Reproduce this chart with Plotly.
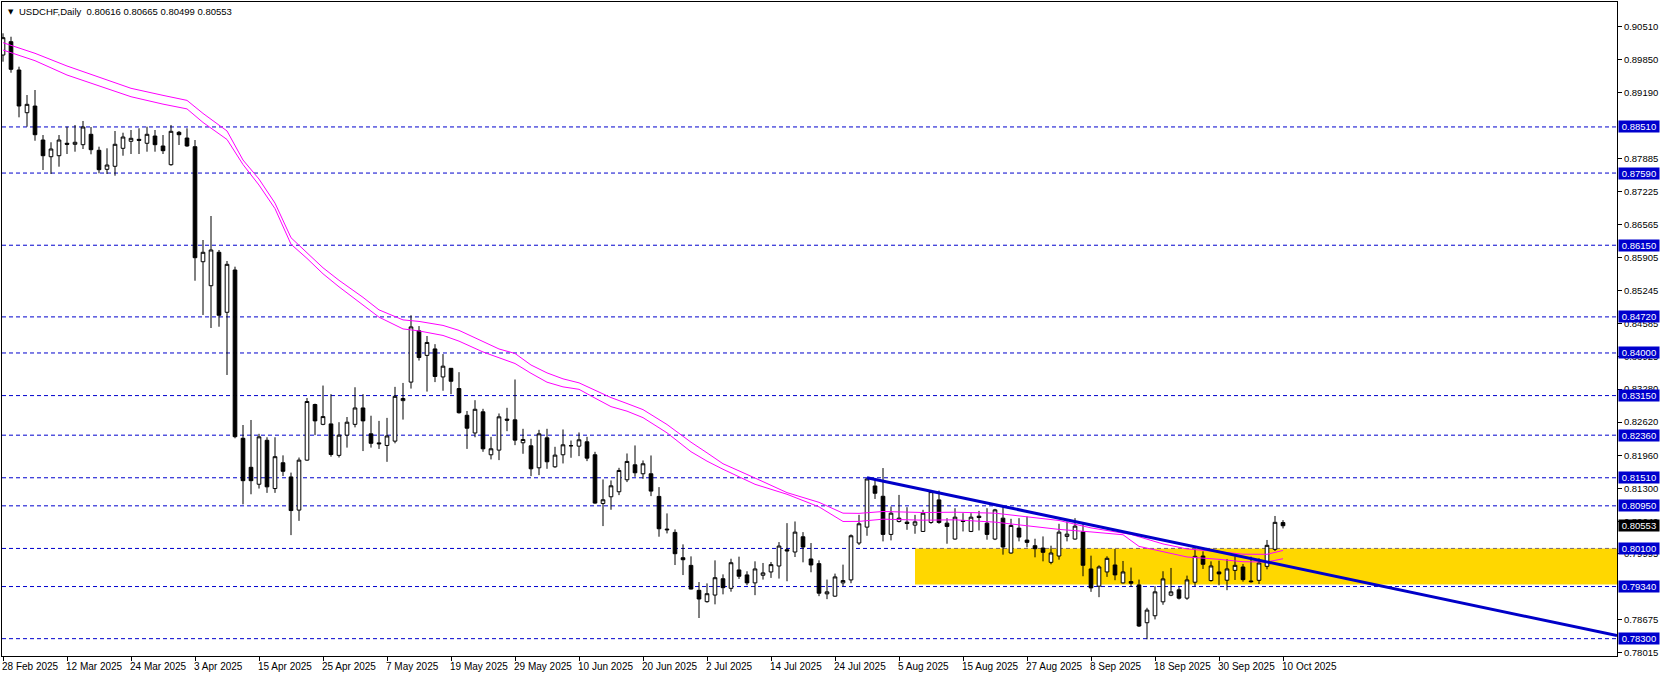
import plotly.graph_objects as go

# ---------------- data ----------------
header_text = "USDCHF,Daily\u00a0\u00a00.80616 0.80665 0.80499 0.80553"

date_labels = ["28 Feb 2025", "12 Mar 2025", "24 Mar 2025", "3 Apr 2025", "15 Apr 2025",
               "25 Apr 2025", "7 May 2025", "19 May 2025", "29 May 2025", "10 Jun 2025",
               "20 Jun 2025", "2 Jul 2025", "14 Jul 2025", "24 Jul 2025", "5 Aug 2025",
               "15 Aug 2025", "27 Aug 2025", "8 Sep 2025", "18 Sep 2025", "30 Sep 2025",
               "10 Oct 2025"]
date_bars = [0, 8, 16, 24, 32, 40, 48, 56, 64, 72, 80, 88, 96, 104, 112, 120, 128, 136, 144, 152, 160]

opens = [0.89945, 0.90211, 0.89646, 0.88794, 0.88927, 0.88249, 0.87916, 0.87936, 0.88184, 0.88164,
         0.88156, 0.88363, 0.88044, 0.87665, 0.87725, 0.88084, 0.88224, 0.88263, 0.88184, 0.88329,
         0.88130, 0.87757, 0.88403, 0.88289, 0.88116, 0.85821, 0.85342, 0.86009, 0.84812, 0.85656,
         0.82298, 0.81719, 0.81381, 0.82258, 0.81295, 0.81810, 0.81527, 0.80865, 0.81862, 0.82972,
         0.82576, 0.82585, 0.81957, 0.82361, 0.82576, 0.82903, 0.82387, 0.82206, 0.82155, 0.82241,
         0.83049, 0.83419, 0.84442, 0.83952, 0.84081, 0.83522, 0.83694, 0.83290, 0.82757, 0.82404,
         0.82826, 0.81969, 0.82062, 0.82680, 0.82666, 0.82208, 0.82148, 0.81709, 0.82307, 0.81729,
         0.81969, 0.82148, 0.82141, 0.82228, 0.81969, 0.80998, 0.81131, 0.81231, 0.81470, 0.81769,
         0.81590, 0.81590, 0.81138, 0.80487, 0.80420, 0.79915, 0.79762, 0.79264, 0.79038, 0.79170,
         0.79496, 0.79304, 0.79671, 0.79572, 0.79413, 0.79565, 0.79631, 0.79750, 0.80075, 0.80029,
         0.80333, 0.79890, 0.79797, 0.79194, 0.79148, 0.79413, 0.79472, 0.80208, 0.80525, 0.81347,
         0.81141, 0.80380, 0.80638, 0.80625, 0.80565, 0.80439, 0.80618, 0.81069, 0.80605, 0.80287,
         0.80658, 0.80439, 0.80744, 0.80605, 0.80287, 0.80704, 0.80009, 0.80506, 0.80267, 0.80155,
         0.80108, 0.79823, 0.79949, 0.80340, 0.80287, 0.80433, 0.79691, 0.79347, 0.79631, 0.79770,
         0.79413, 0.79439, 0.79373, 0.78618, 0.78757, 0.79035, 0.79168, 0.79274, 0.79108, 0.79426,
         0.79949, 0.79459, 0.79631, 0.79466, 0.79663, 0.79730, 0.79451, 0.79464, 0.79743, 0.80082,
         0.80616]
highs = [0.90378, 0.90310, 0.89712, 0.89147, 0.89247, 0.88349, 0.88204, 0.88349, 0.88515, 0.88549,
         0.88629, 0.88509, 0.88116, 0.88084, 0.88429, 0.88395, 0.88449, 0.88483, 0.88515, 0.88449,
         0.88349, 0.88549, 0.88429, 0.88483, 0.88249, 0.86254, 0.86733, 0.86055, 0.85835, 0.85722,
         0.82563, 0.82663, 0.82387, 0.82318, 0.82318, 0.81957, 0.81613, 0.81914, 0.83101, 0.82989,
         0.83350, 0.83178, 0.82619, 0.82722, 0.83316, 0.83178, 0.82748, 0.82645, 0.82705, 0.83324,
         0.83402, 0.84752, 0.84537, 0.84339, 0.84176, 0.83978, 0.83694, 0.83617, 0.82843, 0.83058,
         0.82886, 0.82327, 0.82793, 0.82906, 0.83471, 0.82487, 0.82288, 0.82467, 0.82487, 0.82128,
         0.82474, 0.82254, 0.82414, 0.82327, 0.82028, 0.81477, 0.81457, 0.81709, 0.81995, 0.82155,
         0.81856, 0.81955, 0.81324, 0.80799, 0.80480, 0.80181, 0.79942, 0.79430, 0.79403, 0.79862,
         0.79583, 0.79895, 0.79936, 0.79645, 0.79843, 0.79810, 0.79830, 0.80227, 0.80605, 0.80638,
         0.80426, 0.80208, 0.79863, 0.79479, 0.79598, 0.79777, 0.80380, 0.80771, 0.81499, 0.81466,
         0.81704, 0.80936, 0.81168, 0.80923, 0.80770, 0.80870, 0.81267, 0.81254, 0.80704, 0.80903,
         0.80804, 0.80804, 0.80850, 0.80903, 0.80890, 0.80936, 0.80691, 0.80704, 0.80737, 0.80294,
         0.80340, 0.80155, 0.80592, 0.80638, 0.80704, 0.80585, 0.79956, 0.79764, 0.79943, 0.80088,
         0.79850, 0.79718, 0.79479, 0.78916, 0.79347, 0.79645, 0.79711, 0.79327, 0.79558, 0.80075,
         0.80042, 0.79843, 0.79856, 0.79890, 0.79943, 0.79790, 0.79936, 0.79903, 0.80269, 0.80748,
         0.80665]
lows = [0.89812, 0.89592, 0.88702, 0.88515, 0.88235, 0.87651, 0.87571, 0.87717, 0.87970, 0.88016,
        0.88070, 0.87964, 0.87585, 0.87571, 0.87537, 0.87936, 0.87970, 0.87970, 0.88016, 0.88016,
        0.87970, 0.87737, 0.88150, 0.88116, 0.85442, 0.84758, 0.84498, 0.84524, 0.83561, 0.82298,
        0.80981, 0.81181, 0.81295, 0.81209, 0.81209, 0.81544, 0.80366, 0.80650, 0.81850, 0.82361,
        0.82559, 0.81931, 0.81914, 0.82112, 0.82516, 0.82043, 0.82112, 0.82086, 0.81828, 0.82198,
        0.82671, 0.83290, 0.83849, 0.83230, 0.83419, 0.83247, 0.83178, 0.82791, 0.82086, 0.82318,
        0.82028, 0.81876, 0.81862, 0.82440, 0.82161, 0.81989, 0.81543, 0.81563, 0.81689, 0.81709,
        0.81796, 0.81909, 0.81942, 0.81842, 0.80992, 0.80546, 0.80872, 0.81164, 0.81424, 0.81530,
        0.81490, 0.81144, 0.80334, 0.80400, 0.79769, 0.79569, 0.79284, 0.78712, 0.79018, 0.78985,
        0.79184, 0.79237, 0.79492, 0.79366, 0.79168, 0.79479, 0.79512, 0.79499, 0.79446, 0.79929,
        0.79823, 0.79625, 0.79148, 0.79088, 0.79135, 0.79347, 0.79406, 0.80168, 0.80353, 0.81088,
        0.80241, 0.80261, 0.80618, 0.80472, 0.80393, 0.80433, 0.80592, 0.80592, 0.80194, 0.80274,
        0.80439, 0.80426, 0.80459, 0.80274, 0.80267, 0.79976, 0.79996, 0.80241, 0.80121, 0.79923,
        0.79843, 0.79784, 0.79876, 0.80241, 0.80274, 0.79545, 0.79234, 0.79128, 0.79532, 0.79466,
        0.79400, 0.79333, 0.78532, 0.78287, 0.78684, 0.78976, 0.79148, 0.79082, 0.79075, 0.79347,
        0.79691, 0.79439, 0.79366, 0.79267, 0.79471, 0.79437, 0.79417, 0.79391, 0.79683, 0.80049,
        0.80499]
closes = [0.90291, 0.89660, 0.88928, 0.88961, 0.88355, 0.87936, 0.88070, 0.88249, 0.88164, 0.88204,
          0.88509, 0.88056, 0.87657, 0.87750, 0.88164, 0.88309, 0.88283, 0.88243, 0.88363, 0.88156,
          0.88036, 0.88423, 0.88355, 0.88130, 0.85901, 0.86009, 0.86055, 0.84752, 0.85769, 0.82330,
          0.81452, 0.81452, 0.82327, 0.81329, 0.81931, 0.81639, 0.80856, 0.81862, 0.83032, 0.82645,
          0.82731, 0.81974, 0.82361, 0.82619, 0.82903, 0.82645, 0.82198, 0.82189, 0.82344, 0.83135,
          0.83092, 0.84520, 0.83909, 0.84210, 0.83531, 0.83737, 0.83436, 0.82808, 0.82499, 0.82877,
          0.82088, 0.82088, 0.82726, 0.82660, 0.82261, 0.82274, 0.81689, 0.82387, 0.81829, 0.81962,
          0.82168, 0.82150, 0.82268, 0.81902, 0.81005, 0.81071, 0.81350, 0.81656, 0.81836, 0.81610,
          0.81789, 0.81244, 0.80493, 0.80473, 0.79995, 0.79875, 0.79290, 0.79091, 0.79197, 0.79516,
          0.79317, 0.79815, 0.79545, 0.79413, 0.79691, 0.79612, 0.79777, 0.80148, 0.80050, 0.80426,
          0.80128, 0.79770, 0.79207, 0.79234, 0.79532, 0.79459, 0.80353, 0.80592, 0.81486, 0.81201,
          0.80380, 0.80804, 0.80704, 0.80598, 0.80631, 0.80804, 0.81234, 0.80618, 0.80539, 0.80724,
          0.80638, 0.80724, 0.80717, 0.80380, 0.80870, 0.80128, 0.80559, 0.80327, 0.80221, 0.80095,
          0.80022, 0.80009, 0.80426, 0.80386, 0.80545, 0.79764, 0.79313, 0.79731, 0.79903, 0.79572,
          0.79631, 0.79406, 0.78552, 0.78870, 0.79234, 0.79492, 0.79234, 0.79108, 0.79472, 0.79943,
          0.79784, 0.79751, 0.79592, 0.79691, 0.79763, 0.79477, 0.79437, 0.79810, 0.80162, 0.80621,
          0.80553]

# two moving-average lines (read at sample bars)
ma_upper_bars = [0, 4, 8, 12, 16, 20, 23, 25, 28, 30, 32, 34, 36, 38, 40, 42, 45, 47, 50, 52, 55, 57,
                 60, 62, 64, 66, 68, 70, 72, 74, 76, 78, 80, 83, 86, 88, 90, 94, 98, 102, 105, 107,
                 110, 115, 119, 124, 128, 132, 136, 141, 145, 148, 152, 155, 158, 160]
ma_upper = [0.90191, 0.89979, 0.89726, 0.89500, 0.89281, 0.89140, 0.89040, 0.88780, 0.88430, 0.87850,
            0.87470, 0.86990, 0.86300, 0.85999, 0.85700, 0.85450, 0.85110, 0.84860, 0.84660, 0.84630,
            0.84550, 0.84451, 0.84220, 0.84080, 0.83990, 0.83760, 0.83603, 0.83484, 0.83404, 0.83250,
            0.83110, 0.82992, 0.82870, 0.82573, 0.82220, 0.82008, 0.81790, 0.81505, 0.81214, 0.81020,
            0.80804, 0.80800, 0.80837, 0.80817, 0.80823, 0.80804, 0.80724, 0.80658, 0.80510, 0.80380,
            0.80190, 0.80090, 0.80036, 0.79985, 0.79983, 0.80060]
ma_lower_bars = [0, 4, 8, 12, 16, 20, 23, 25, 28, 30, 32, 34, 36, 38, 40, 42, 45, 47, 50, 52, 55, 57,
                 60, 62, 64, 66, 68, 70, 72, 74, 76, 78, 80, 83, 86, 88, 90, 94, 98, 102, 105, 107,
                 110, 115, 119, 124, 128, 132, 136, 140, 142, 145, 148, 152, 155, 158, 160]
ma_lower = [0.90045, 0.89832, 0.89546, 0.89327, 0.89113, 0.88965, 0.88870, 0.88600, 0.88260, 0.87760,
            0.87350, 0.86880, 0.86170, 0.85887, 0.85580, 0.85320, 0.84960, 0.84715, 0.84480, 0.84440,
            0.84350, 0.84236, 0.84020, 0.83910, 0.83790, 0.83595, 0.83417, 0.83324, 0.83275, 0.83100,
            0.82930, 0.82839, 0.82710, 0.82407, 0.82030, 0.81842, 0.81680, 0.81380, 0.81181, 0.80930,
            0.80638, 0.80640, 0.80684, 0.80664, 0.80671, 0.80625, 0.80552, 0.80480, 0.80430, 0.80373,
            0.80141, 0.80030, 0.79930, 0.79883, 0.79835, 0.79830, 0.79895]

# horizontal levels and their labels
levels = [0.88510, 0.87590, 0.86150, 0.84720, 0.84000, 0.83150, 0.82360, 0.81510, 0.80950,
          0.80100, 0.79340, 0.78300]
level_labels = ["0.88510", "0.87590", "0.86150", "0.84720", "0.84000", "0.83150", "0.82360",
                "0.81510", "0.80950", "0.80100", "0.79340", "0.78300"]
last_price = 0.80553
last_price_label = "0.80553"

axis_tick_vals = [0.90510, 0.89850, 0.89190, 0.87885, 0.87225, 0.86565, 0.85905, 0.85245,
                  0.84585, 0.83925, 0.83280, 0.82620, 0.81960, 0.81300, 0.80640, 0.79995,
                  0.78675, 0.78015]
axis_tick_text = ["0.90510", "0.89850", "0.89190", "0.87885", "0.87225", "0.86565",
                  "0.85905", "0.85245", "0.84585", "0.83925", "0.83280", "0.82620", "0.81960",
                  "0.81300", "0.80640", "0.79995", "0.78675", "0.78015"]

# trendline and support zone
trend_bars = [108, 201.75]
trend_prices = [0.81510, 0.78361]
zone_start_bar = 114
zone_end_bar = 201.75
zone_low = 0.79380
zone_high = 0.80100

x_range = [-0.125, 201.75]
y_range = [0.77954, 0.91003]

FONT = "Liberation Sans, Arial, sans-serif"
BLUE = "#0000CD"

bars = list(range(len(opens)))

fig = go.Figure()

fig.add_trace(go.Candlestick(
    x=bars, open=opens, high=highs, low=lows, close=closes,
    increasing=dict(line=dict(color="black", width=1), fillcolor="white"),
    decreasing=dict(line=dict(color="black", width=1), fillcolor="black"),
    whiskerwidth=0, hoverinfo="skip", showlegend=False,
))

fig.add_trace(go.Scatter(x=ma_upper_bars, y=ma_upper, mode="lines",
                         line=dict(color="#FF00FF", width=1), hoverinfo="skip", showlegend=False))
fig.add_trace(go.Scatter(x=ma_lower_bars, y=ma_lower, mode="lines",
                         line=dict(color="#FF00FF", width=1), hoverinfo="skip", showlegend=False))
fig.add_trace(go.Scatter(x=trend_bars, y=trend_prices, mode="lines",
                         line=dict(color="#0000C8", width=3), hoverinfo="skip", showlegend=False))

shapes = [dict(type="rect", xref="x", yref="y", x0=zone_start_bar, x1=zone_end_bar,
               y0=zone_low, y1=zone_high, fillcolor="#FFD700", line=dict(width=0), layer="below")]
for lv in levels:
    shapes.append(dict(type="line", xref="paper", yref="y", x0=0, x1=1, y0=lv, y1=lv,
                       line=dict(color=BLUE, width=1, dash="4px,3px"), layer="below"))

annotations = []
for lv, lab in zip(levels, level_labels):
    annotations.append(dict(xref="paper", yref="y", x=1, y=lv, xanchor="left", yanchor="middle",
                            xshift=1, text=lab, showarrow=False, bgcolor=BLUE, width=40, height=11,
                            borderpad=0, font=dict(family=FONT, size=9.5, color="white")))
annotations.append(dict(xref="paper", yref="y", x=1, y=last_price, xanchor="left", yanchor="middle",
                        xshift=1, text=last_price_label, showarrow=False, bgcolor="black", width=40,
                        height=11, borderpad=0, font=dict(family=FONT, size=9.5, color="white")))
for b, lab in zip(date_bars, date_labels):
    annotations.append(dict(xref="x", yref="paper", x=b, y=0, xanchor="left", yanchor="top",
                            xshift=-3, yshift=-3, text=lab, showarrow=False,
                            font=dict(family=FONT, size=10, color="black")))
annotations.append(dict(xref="paper", yref="paper", x=0, y=1, xanchor="left", yanchor="top",
                        xshift=4, yshift=-4, text="\u25BC", showarrow=False,
                        font=dict(family="DejaVu Sans", size=7, color="black")))
annotations.append(dict(xref="paper", yref="paper", x=0, y=1, xanchor="left", yanchor="top",
                        xshift=15, yshift=-2, text=header_text, showarrow=False,
                        font=dict(family=FONT, size=9.5, color="black")))

fig.update_layout(
    width=1662, height=677,
    margin=dict(l=2, r=45, t=2, b=21, pad=0),
    paper_bgcolor="white", plot_bgcolor="white",
    showlegend=False, boxgap=0.35,
    shapes=shapes, annotations=annotations,
    xaxis=dict(range=x_range, showgrid=False, zeroline=False, showline=True, mirror=True,
               linecolor="black", linewidth=1, ticks="outside", ticklen=4, tickcolor="black",
               tickvals=date_bars, showticklabels=False, rangeslider=dict(visible=False),
               fixedrange=True),
    yaxis=dict(range=y_range, side="right", showgrid=False, zeroline=False, showline=True,
               mirror=True, linecolor="black", linewidth=1, ticks="outside", ticklen=4,
               tickcolor="black", tickvals=axis_tick_vals, ticktext=axis_tick_text,
               tickfont=dict(family=FONT, size=9.5, color="black"), fixedrange=True),
)

fig.write_html(
    "out.html",
    config={"displayModeBar": False},
    post_script="document.body.style.margin='0';document.body.style.overflow='hidden';",
)
